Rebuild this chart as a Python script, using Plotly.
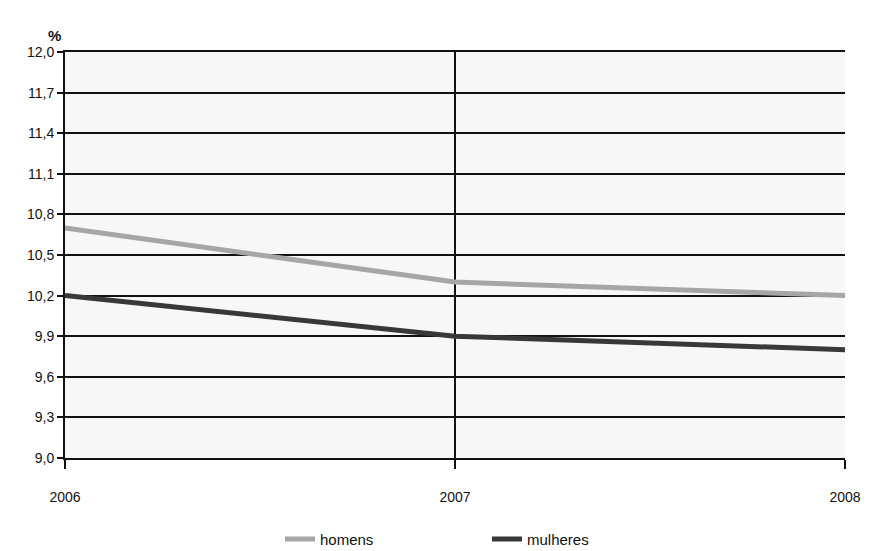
import plotly.graph_objects as go

anos = [2006, 2007, 2008]
homens = [10.7, 10.3, 10.2]
mulheres = [10.2, 9.9, 9.8]
y_ticks = [9.0, 9.3, 9.6, 9.9, 10.2, 10.5, 10.8, 11.1, 11.4, 11.7, 12.0]
y_labels = ["9,0", "9,3", "9,6", "9,9", "10,2", "10,5", "10,8", "11,1", "11,4", "11,7", "12,0"]

fig = go.Figure()
fig.add_trace(go.Scatter(x=anos, y=homens, mode="lines", name="homens",
                         line=dict(color="#a6a6a6", width=5)))
fig.add_trace(go.Scatter(x=anos, y=mulheres, mode="lines", name="mulheres",
                         line=dict(color="#383838", width=5)))

fig.update_layout(
    width=869, height=551,
    margin=dict(l=65, r=24, t=52, b=93, autoexpand=False),
    paper_bgcolor="white",
    plot_bgcolor="#f7f7f7",
    font=dict(family="Liberation Sans, Arial, sans-serif", size=14, color="#111"),
    showlegend=True,
    legend=dict(orientation="h", x=0.541, xanchor="center", y=-0.2, yanchor="middle",
                font=dict(size=15), entrywidth=162, traceorder="normal"),
    annotations=[dict(text="<b>%</b>", x=-0.024, y=1.066, xref="paper", yref="paper",
                      showarrow=False, font=dict(size=15, color="#111"))],
)
fig.update_xaxes(range=[2006, 2008], tickvals=anos, ticktext=[str(a) for a in anos],
                 showgrid=True, gridcolor="#111", gridwidth=1.6,
                 showline=True, linecolor="#111", linewidth=2, mirror=True,
                 ticks="outside", ticklen=9, tickcolor="#111", tickwidth=1.6,
                 ticklabelstandoff=16, zeroline=False)
fig.update_yaxes(range=[9.0, 12.0], tickvals=y_ticks, ticktext=y_labels,
                 showgrid=True, gridcolor="#111", gridwidth=1.8,
                 showline=True, linecolor="#111", linewidth=2,
                 ticks="outside", ticklen=6, tickcolor="#111", tickwidth=1.6,
                 zeroline=False)

fig.write_html("out.html")
